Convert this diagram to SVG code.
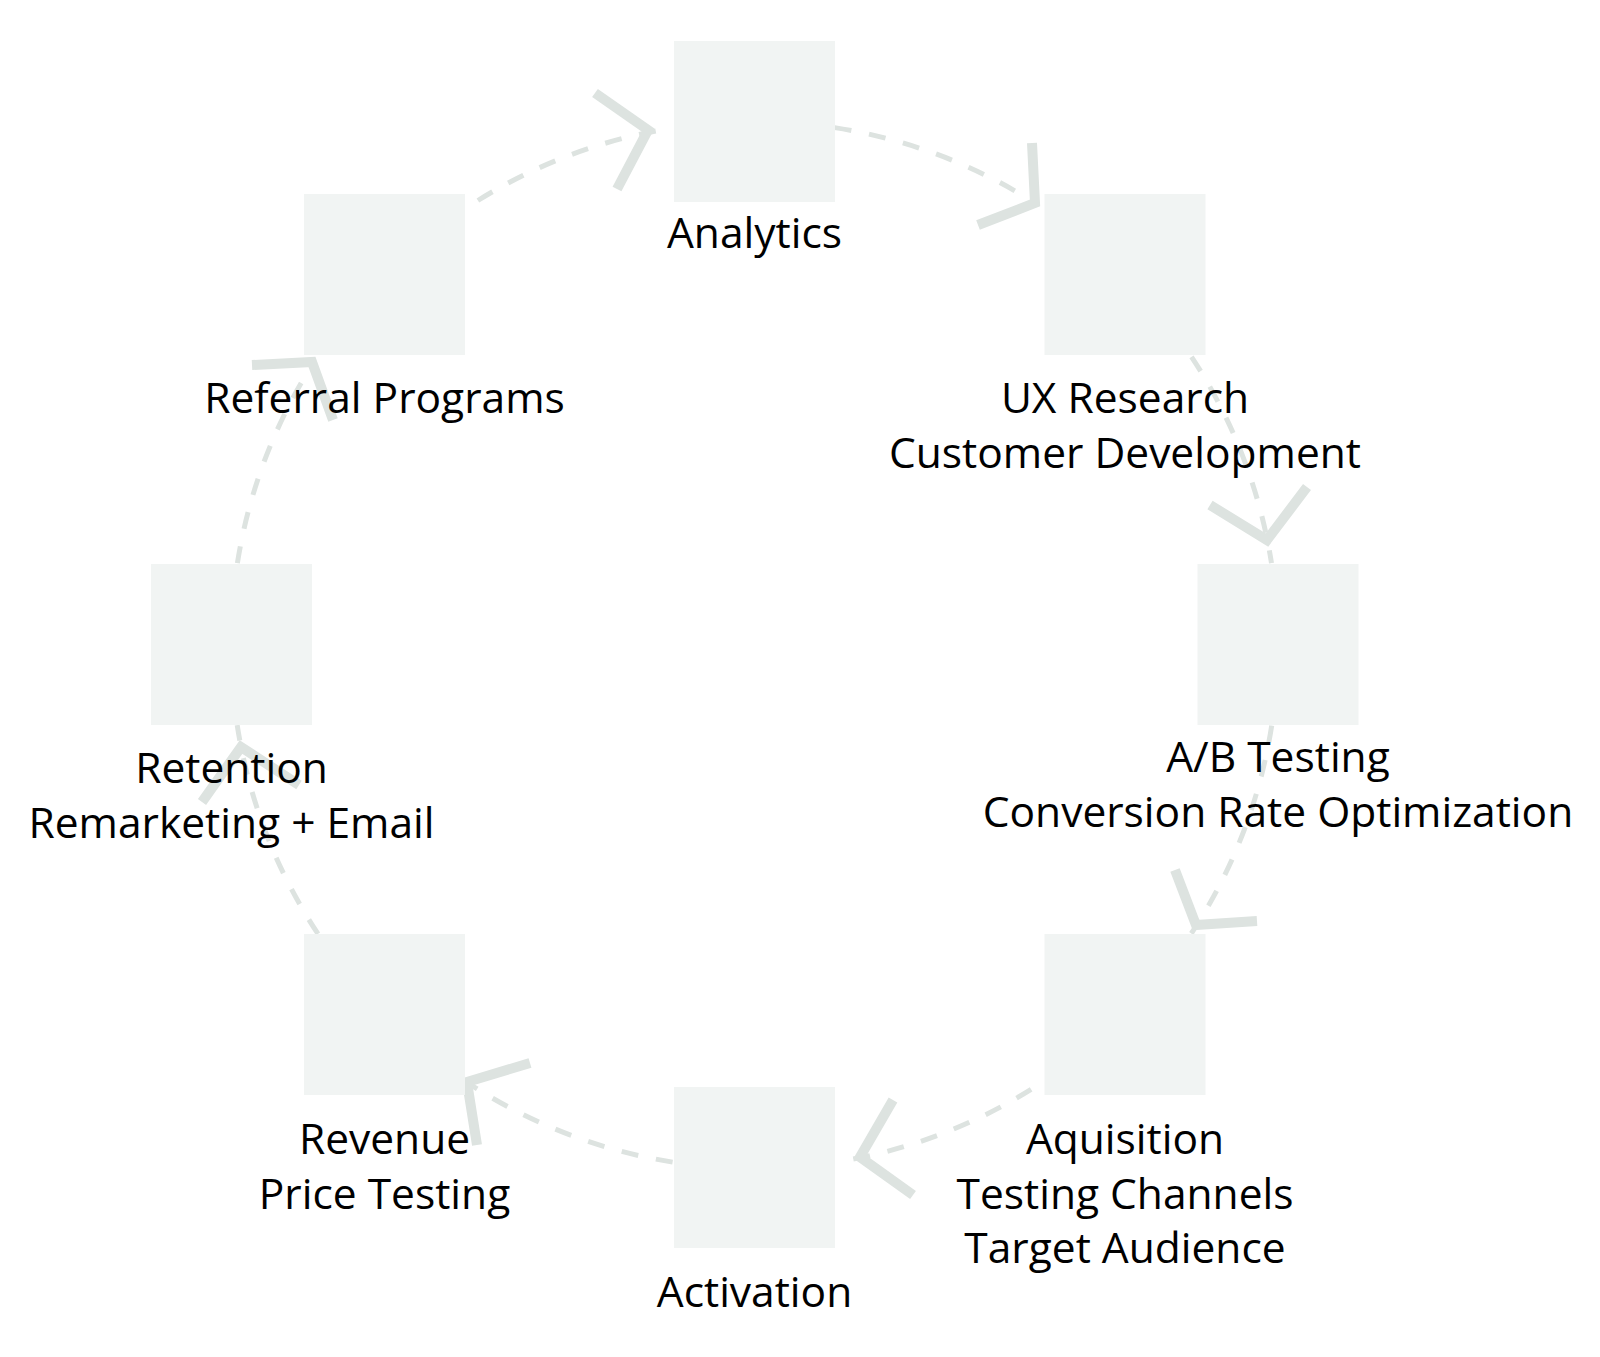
<svg xmlns="http://www.w3.org/2000/svg" width="1600" height="1357" viewBox="0 0 1600 1357">
<style>
.node rect{fill:#f1f4f3}
.lbl{font-family:"Open Sans","Noto Sans","Liberation Sans",sans-serif;font-size:42.5px;fill:#000;text-anchor:middle}
.arc{fill:none;stroke:#dde3e0;stroke-width:5;stroke-dasharray:17 18}
.head{fill:none;stroke:#dde3e0;stroke-width:10;stroke-linejoin:miter;stroke-miterlimit:10}
</style>
<rect width="1600" height="1357" fill="#fff"/>
<g id="connectors">
<path class="arc" d="M477.9 200.5 A523.5 523.5 0 0 1 663.6 129.5"/>
<polyline class="head" points="595,93 648,130 617,189"/>
<path class="arc" d="M834.6 127.6 A523.5 523.5 0 0 1 1035 203"/>
<polyline class="head" points="1032,143 1035,203 978,225"/>
<path class="arc" d="M1191.5 356.8 A523.5 523.5 0 0 1 1271.5 563.1"/>
<polyline class="head" points="1210,505 1267,540 1307,487"/>
<path class="arc" d="M1271.7 725.6 A523.5 523.5 0 0 1 1191.3 933.5"/>
<polyline class="head" points="1175,870 1196,925 1257,921"/>
<path class="arc" d="M1031.1 1089.4 A523.5 523.5 0 0 1 845.4 1160.5"/>
<polyline class="head" points="893,1100 860,1157 913,1195"/>
<path class="arc" d="M672.6 1162.1 A523.5 523.5 0 0 1 467.1 1082.5"/>
<polyline class="head" points="530,1063 467,1082 477,1145"/>
<path class="arc" d="M318 933.9 A523.5 523.5 0 0 1 237.2 725.1"/>
<polyline class="head" points="202,802 241,747 299,785"/>
<path class="arc" d="M237.4 563.1 A523.5 523.5 0 0 1 313.4 363"/>
<polyline class="head" points="252,365 312,362 333,420"/>
</g>
<g id="analytics" class="node"><rect x="674" y="41" width="161" height="161"/><text class="lbl" x="754.5" y="248">Analytics</text></g>
<g id="ux-research" class="node"><rect x="1044.5" y="194" width="161" height="161"/><text class="lbl" x="1125" y="413">UX Research</text><text class="lbl" x="1125" y="468">Customer Development</text></g>
<g id="ab-testing" class="node"><rect x="1197.5" y="564" width="161" height="161"/><text class="lbl" x="1278" y="772">A/B Testing</text><text class="lbl" x="1278" y="827">Conversion Rate Optimization</text></g>
<g id="aquisition" class="node"><rect x="1044.5" y="934" width="161" height="161"/><text class="lbl" x="1125" y="1154">Aquisition</text><text class="lbl" x="1125" y="1209">Testing Channels</text><text class="lbl" x="1125" y="1263">Target Audience</text></g>
<g id="activation" class="node"><rect x="674" y="1087" width="161" height="161"/><text class="lbl" x="754.5" y="1307">Activation</text></g>
<g id="revenue" class="node"><rect x="304" y="934" width="161" height="161"/><text class="lbl" x="384.5" y="1154">Revenue</text><text class="lbl" x="384.5" y="1209">Price Testing</text></g>
<g id="retention" class="node"><rect x="151" y="564" width="161" height="161"/><text class="lbl" x="231.5" y="783">Retention</text><text class="lbl" x="231.5" y="838">Remarketing + Email</text></g>
<g id="referral" class="node"><rect x="304" y="194" width="161" height="161"/><text class="lbl" x="384.5" y="413">Referral Programs</text></g>
</svg>
